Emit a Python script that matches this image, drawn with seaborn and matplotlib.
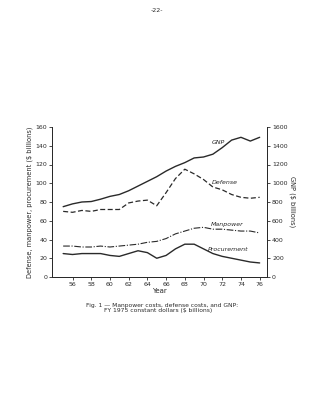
import seaborn as sns
import pandas as pd
import matplotlib.pyplot as plt

# fiscal years 1955-1976
years = list(range(55, 77))
gnp = [750, 780, 800, 805, 830, 860, 880, 920, 970, 1020, 1070, 1130,
       1180, 1220, 1270, 1280, 1310, 1380, 1460, 1490, 1450, 1490]
defense = [70, 69, 71, 70, 72, 72, 72, 79, 81, 82, 76, 90,
           105, 115, 110, 104, 96, 93, 88, 85, 84, 85]
manpower = [33, 33, 32, 32, 33, 32, 33, 34, 35, 37, 38, 41,
            46, 49, 52, 53, 51, 51, 50, 49, 49, 47]
procurement = [25, 24, 25, 25, 25, 23, 22, 25, 28, 26, 20, 23,
               30, 35, 35, 30, 25, 22, 20, 18, 16, 15]

df = pd.DataFrame({"Year": years, "GNP": gnp, "Defense": defense,
                   "Manpower": manpower, "Procurement": procurement})

sns.set_style("ticks")
plt.rcParams['font.family'] = ['DejaVu Sans']
ink = "#2a2a2a"

fig = plt.figure(figsize=(3.11, 4.0), dpi=100)
ax = fig.add_axes([0.167, 0.3075, 0.692, 0.375])
ax2 = ax.twinx()

sns.lineplot(data=df, x="Year", y="Defense", ax=ax, color=ink, lw=0.9, linestyle=(0, (4, 2)))
sns.lineplot(data=df, x="Year", y="Manpower", ax=ax, color=ink, lw=0.8, linestyle=(0, (6, 1.5, 1, 1.5)))
sns.lineplot(data=df, x="Year", y="Procurement", ax=ax, color=ink, lw=1.0)
sns.lineplot(data=df, x="Year", y="GNP", ax=ax2, color=ink, lw=1.0)

ax.set_xlim(53.8, 76.8)
ax.set_ylim(0, 160)
ax2.set_ylim(0, 1600)
ax.set_xticks(range(56, 77, 2))
ax.set_yticks(range(0, 161, 20))
ax2.set_yticks(range(0, 1601, 200))

for a in (ax, ax2):
    a.tick_params(labelsize=4.5, length=2, width=0.6, colors=ink, pad=1.5)
    for s in a.spines.values():
        s.set_linewidth(0.7)
        s.set_color(ink)
    a.spines['top'].set_visible(False)

ax.set_xlabel("Year", fontsize=5, color=ink, labelpad=1)
ax.set_ylabel("Defense, manpower, procurement ($ billions)", fontsize=4.8, color=ink, labelpad=2)
ax2.set_ylabel("GNP ($ billions)", fontsize=4.8, color=ink, rotation=270, labelpad=6)

ax.text(71.6, 144, "GNP", fontsize=4.5, style="italic", color=ink, ha="center", va="center")
ax.text(72.3, 101, "Defense", fontsize=4.5, style="italic", color=ink, ha="center", va="center")
ax.text(72.5, 56, "Manpower", fontsize=4.5, style="italic", color=ink, ha="center", va="center")
ax.text(72.6, 29, "Procurement", fontsize=4.5, style="italic", color=ink, ha="center", va="center")

fig.text(0.505, 0.975, "-22-", fontsize=4.5, color=ink, ha="center", va="center")
fig.text(0.52, 0.237, "Fig. 1 \u2014 Manpower costs, defense costs, and GNP:",
         fontsize=4.3, color=ink, ha="center", va="center")
fig.text(0.51, 0.224, "FY 1975 constant dollars ($ billions)",
         fontsize=4.3, color=ink, ha="center", va="center")

fig.savefig("out.png", dpi=100)
